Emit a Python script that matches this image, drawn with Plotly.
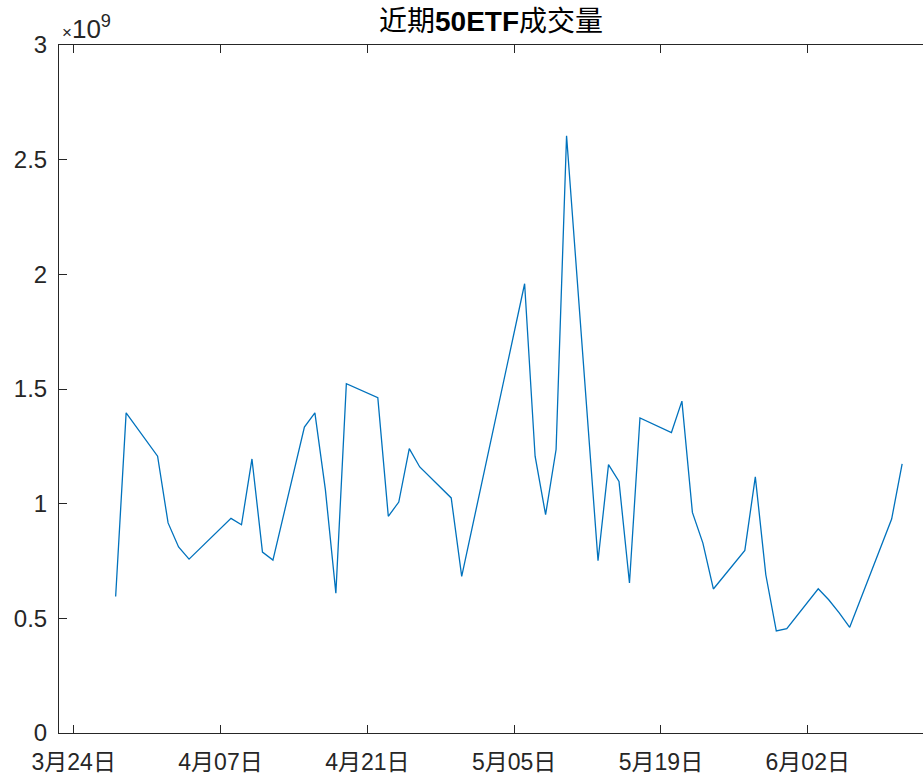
import plotly.graph_objects as go

dates = [
    "2019-03-28", "2019-03-29",
    "2019-04-01", "2019-04-02", "2019-04-03", "2019-04-04",
    "2019-04-08", "2019-04-09", "2019-04-10", "2019-04-11", "2019-04-12",
    "2019-04-15", "2019-04-16", "2019-04-17", "2019-04-18", "2019-04-19",
    "2019-04-22", "2019-04-23", "2019-04-24", "2019-04-25", "2019-04-26",
    "2019-04-29", "2019-04-30",
    "2019-05-06", "2019-05-07", "2019-05-08", "2019-05-09", "2019-05-10",
    "2019-05-13", "2019-05-14", "2019-05-15", "2019-05-16", "2019-05-17",
    "2019-05-20", "2019-05-21", "2019-05-22", "2019-05-23", "2019-05-24",
    "2019-05-27", "2019-05-28", "2019-05-29", "2019-05-30", "2019-05-31",
    "2019-06-03", "2019-06-04", "2019-06-05", "2019-06-06",
    "2019-06-10", "2019-06-11",
]

volume = [
    0.595e9, 1.396e9,
    1.207e9, 0.916e9, 0.811e9, 0.758e9,
    0.936e9, 0.908e9, 1.195e9, 0.789e9, 0.754e9,
    1.334e9, 1.396e9, 1.061e9, 0.610e9, 1.523e9,
    1.462e9, 0.945e9, 1.007e9, 1.240e9, 1.160e9,
    1.025e9, 0.683e9,
    1.959e9, 1.207e9, 0.952e9, 1.236e9, 2.604e9,
    0.751e9, 1.170e9, 1.097e9, 0.654e9, 1.374e9,
    1.310e9, 1.447e9, 0.962e9, 0.828e9, 0.628e9,
    0.796e9, 1.117e9, 0.690e9, 0.445e9, 0.455e9,
    0.629e9, 0.581e9, 0.524e9, 0.461e9,
    0.933e9, 1.173e9,
]

x_tick_vals = ["2019-03-24", "2019-04-07", "2019-04-21", "2019-05-05", "2019-05-19", "2019-06-02"]
x_tick_text = ["3月24日", "4月07日", "4月21日", "5月05日", "5月19日", "6月02日"]
y_tick_vals = [0, 0.5e9, 1.0e9, 1.5e9, 2.0e9, 2.5e9, 3.0e9]
y_tick_text = ["0", "0.5", "1", "1.5", "2", "2.5", "3"]

title_text = "近期<b>50ETF</b>成交量"
exponent_text = "<span style='font-size:17px'>×</span>10<sup>9</sup>"

AX = "#262626"
FONT = "Liberation Sans, Arial, Noto Sans CJK SC, sans-serif"

fig = go.Figure()
fig.add_trace(go.Scatter(
    x=dates, y=volume, mode="lines",
    line=dict(color="#0072BD", width=1.3),
    showlegend=False,
))

fig.update_layout(
    width=923, height=778,
    margin=dict(l=59, r=0, t=45, b=45, autoexpand=False),
    paper_bgcolor="white", plot_bgcolor="white",
    font=dict(family=FONT, color=AX, size=24),
    xaxis=dict(
        type="date", automargin=False,
        range=["2019-03-22 14:21", "2019-06-12 23:46"],
        tickvals=x_tick_vals, ticktext=x_tick_text,
        ticks="inside", ticklen=8, tickwidth=1, tickcolor=AX,
        showline=True, linecolor=AX, linewidth=1, mirror="ticks",
        showgrid=False, zeroline=False,
        tickfont=dict(size=23, color=AX, family=FONT),
        ticklabelstandoff=8,
    ),
    yaxis=dict(
        automargin=False,
        range=[0, 3e9],
        tickvals=y_tick_vals, ticktext=y_tick_text,
        ticks="inside", ticklen=8, tickwidth=1, tickcolor=AX,
        showline=True, linecolor=AX, linewidth=1,
        showgrid=False, zeroline=False,
        tickfont=dict(size=24, color=AX, family=FONT),
        ticklabelstandoff=6,
    ),
    yaxis2=dict(
        overlaying="y", side="right", anchor="x", automargin=False,
        range=[0, 3e9], tickvals=y_tick_vals,
        ticks="inside", ticklen=3, tickwidth=1, tickcolor=AX,
        showticklabels=False, showline=False, showgrid=False, zeroline=False,
    ),
    annotations=[
        dict(text=title_text, xref="paper", yref="paper", x=0.5, y=1,
             xanchor="center", yanchor="bottom", yshift=6, showarrow=False,
             font=dict(size=28, color="black", family=FONT)),
        dict(text=exponent_text, xref="paper", yref="paper", x=0, y=1,
             xanchor="left", yanchor="bottom", xshift=1, yshift=-1, showarrow=False,
             font=dict(size=26, color=AX, family=FONT)),
    ],
)

fig.write_html("out.html", config={"displayModeBar": False},
               post_script="document.body.style.margin='0';")
